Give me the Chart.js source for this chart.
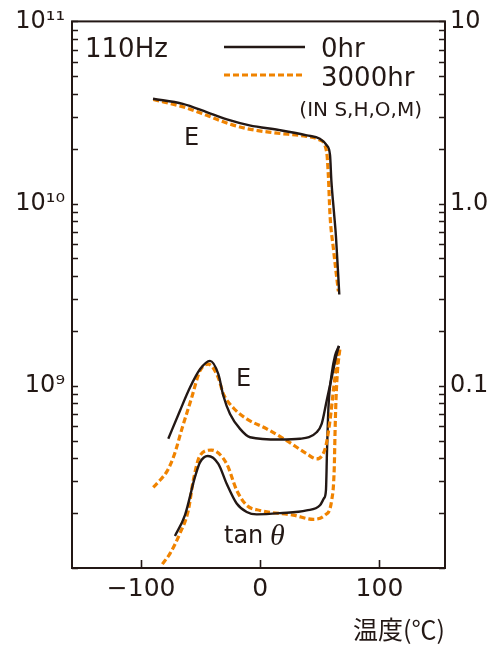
<!DOCTYPE html>
<html>
<head>
<meta charset="utf-8">
<script src="https://cdn.jsdelivr.net/npm/chart.js@4/dist/chart.umd.min.js"></script>
<style>
html,body{margin:0;padding:0;background:#fff;}
canvas{display:block;}
</style>
</head>
<body>
<canvas id="c" width="494" height="646"></canvas>
<script>
// ---- data (temperature in °C, E on left axis, tan on right axis) ----
const tE0    = [-90,-65,-45,-28,-9,16.5,39,50,55.7,58.5,59.7,61.8,63.5,66.3];
const E0     = [3.76e10,3.53e10,3.18e10,2.90e10,2.69e10,2.53e10,2.37e10,2.27e10,2.09e10,1.85e10,1.32e10,9.0e9,6.6e9,3.17e9];
const tE3000 = [-89.8,-64.6,-45,-31,-11.4,10.9,38.9,50.1,55.7,57.1,58.5,61.3,65.5];
const E3000  = [3.73e10,3.39e10,3.05e10,2.81e10,2.58e10,2.45e10,2.34e10,2.23e10,1.92e10,1.43e10,8.67e9,5.70e9,3.30e9];

const tM0    = [-77.2,-67.4,-59.0,-50.6,-42.2,-35.2,-31.0,-25.4,-17.0,-8.6,16.5,33.3,47.3,51.5,55.7,59.9,64.1,66.0];
const M0     = [5.12e8,7.30e8,9.79e8,1.233e9,1.371e9,1.158e9,8.82e8,7.00e8,5.80e8,5.22e8,5.07e8,5.12e8,5.56e8,6.18e8,8.28e8,1.11e9,1.49e9,1.655e9];
const tM3000 = [-89.8,-84.2,-78.3,-72.4,-65.7,-57.6,-50.6,-43.6,-35.2,-31.0,-22.7,-11.4,5.4,22.2,38.9,47.3,51.8,55.1,58.5,61.8,66.0];
const M3000  = [2.77e8,3.03e8,3.39e8,4.14e8,5.82e8,8.60e8,1.208e9,1.314e9,1.106e9,9.04e8,7.58e8,6.58e8,5.80e8,5.00e8,4.24e8,3.97e8,4.14e8,4.70e8,6.44e8,1.0e9,1.614e9];

const tT0    = [-71.6,-63.2,-54.8,-50.6,-44.0,-35.2,-28.2,-19.8,-11.4,-3.0,16.5,38.9,50.1,53.4,55.1,56.0,57.2,59.9,62.7,66.0];
const T0     = [0.0150,0.0195,0.0316,0.0380,0.0412,0.0373,0.0290,0.0226,0.0203,0.0197,0.0200,0.0207,0.0221,0.0241,0.0267,0.0441,0.0761,0.1158,0.146,0.1655];
const tT3000 = [-82.2,-75.8,-67.4,-60.4,-56.2,-50.6,-41.0,-28.2,-19.8,-11.4,-0.3,27.7,44.5,54.3,59.9,62.1,62.7,63.5,64.8,66.9];
const T3000  = [0.0105,0.0120,0.0155,0.0207,0.0303,0.0414,0.0444,0.0373,0.0267,0.0221,0.0207,0.0195,0.0185,0.0195,0.0235,0.0358,0.0545,0.0828,0.121,0.1614];

const xTickVals   = [-100, 0, 100];
const xTickLabels = ['\u2212100', '0', '100'];
const yMajor      = [1e9, 1e10, 1e11];
const yMajorLbl   = ['10\u2079', '10\u00b9\u2070', '10\u00b9\u00b9'];
const y2Major     = [0.1, 1, 10];
const y2MajorLbl  = ['0.1', '1.0', '10'];
const seriesNames = ['0hr', '3000hr'];

const INK = '#231815';
const ORANGE = '#f08300';

function pts(xs, ys){ return xs.map((x,i)=>({x:x, y:ys[i]})); }
function logTicks(lo, hi){
  const out=[];
  for(let e=lo;e<hi;e++){ for(let m=1;m<10;m++){ out.push({value:m*Math.pow(10,e)}); } }
  out.push({value:Math.pow(10,hi)});
  return out;
}
function matchLbl(v, vals, lbls){
  for(let i=0;i<vals.length;i++){ if(Math.abs(Math.log10(v)-Math.log10(vals[i]))<1e-6) return lbls[i]; }
  return '';
}

const solid = {borderColor:INK, borderWidth:2.4, pointRadius:0, cubicInterpolationMode:'monotone', fill:false};
const dashed = {borderColor:ORANGE, borderWidth:3.2, borderDash:[6,3], pointRadius:0, cubicInterpolationMode:'monotone', fill:false};

const frame = {
  id:'frame',
  afterDatasetsDraw(chart){
    const {ctx, chartArea:a, scales} = chart;
    ctx.save();
    ctx.strokeStyle = INK;
    ctx.lineWidth = 1.6;
    ctx.beginPath();
    scales.y.ticks.forEach(t=>{ const p=Math.round(scales.y.getPixelForValue(t.value))+0.5; ctx.moveTo(a.left,p); ctx.lineTo(a.left+6,p); });
    scales.y2.ticks.forEach(t=>{ const p=Math.round(scales.y2.getPixelForValue(t.value))+0.5; ctx.moveTo(a.right,p); ctx.lineTo(a.right-6,p); });
    scales.x.ticks.forEach(t=>{ const p=Math.round(scales.x.getPixelForValue(t.value))+0.5; ctx.moveTo(p,a.bottom); ctx.lineTo(p,a.bottom-8); });
    ctx.stroke();
    ctx.lineWidth = 2;
    ctx.strokeRect(a.left, a.top, a.right-a.left, a.bottom-a.top);

    // annotations
    ctx.fillStyle = INK;
    ctx.textBaseline = 'alphabetic';
    ctx.textAlign = 'left';
    ctx.font = '26px "DejaVu Sans"';
    ctx.fillText('110Hz', 85, 57);
    // legend
    const ds = chart.data.datasets;
    ctx.lineWidth = ds[0].borderWidth; ctx.strokeStyle = ds[0].borderColor; ctx.setLineDash([]);
    ctx.beginPath(); ctx.moveTo(224,47); ctx.lineTo(305,47); ctx.stroke();
    ctx.lineWidth = ds[1].borderWidth; ctx.strokeStyle = ds[1].borderColor; ctx.setLineDash(ds[1].borderDash);
    ctx.beginPath(); ctx.moveTo(224,75); ctx.lineTo(305,75); ctx.stroke();
    ctx.setLineDash([]);
    ctx.fillText(seriesNames[0], 321, 57);
    ctx.fillText(seriesNames[1], 321, 86);
    ctx.font = '20px "DejaVu Sans"';
    ctx.textAlign = 'right';
    ctx.fillText('(IN S,H,O,M)', 422, 116);
    ctx.textAlign = 'left';
    ctx.font = '24px "DejaVu Sans"';
    ctx.fillText('E', 184, 145);
    ctx.fillText('E', 236, 386);
    ctx.fillText('tan', 224, 543);
    ctx.font = 'italic 30px "Liberation Serif"';
    ctx.fillText('\u03b8', 270, 545);
    ctx.restore();
  }
};

new Chart(document.getElementById('c'), {
  type:'line',
  data:{
    datasets:[
      Object.assign({label:seriesNames[0], data:pts(tE0,E0), yAxisID:'y'}, solid),
      Object.assign({label:seriesNames[1], data:pts(tE3000,E3000), yAxisID:'y'}, dashed),
      Object.assign({label:seriesNames[0]+' E2', data:pts(tM0,M0), yAxisID:'y'}, solid),
      Object.assign({label:seriesNames[1]+' E2', data:pts(tM3000,M3000), yAxisID:'y'}, dashed),
      Object.assign({label:seriesNames[0]+' tan', data:pts(tT0,T0), yAxisID:'y2'}, solid),
      Object.assign({label:seriesNames[1]+' tan', data:pts(tT3000,T3000), yAxisID:'y2'}, dashed)
    ]
  },
  options:{
    responsive:false,
    animation:false,
    devicePixelRatio:1,
    layout:{padding:{top:19,left:0,right:0,bottom:0}},
    plugins:{legend:{display:false}, tooltip:{enabled:false}},
    scales:{
      x:{
        type:'linear', min:-158, max:155,
        grid:{display:false, drawTicks:false}, border:{display:false},
        afterBuildTicks(s){ s.ticks = xTickVals.map(v=>({value:v})); },
        afterFit(s){ s.height = 78; },
        ticks:{autoSkip:false, maxRotation:0, padding:6, color:INK, font:{family:'DejaVu Sans', size:25},
          callback(v){ const i = xTickVals.indexOf(v); return i>=0 ? xTickLabels[i] : ''; }},
        title:{display:true, text:'温度(℃)', align:'end', color:INK, padding:{top:0,bottom:2},
          font:{family:'Noto Sans CJK JP', size:25}}
      },
      y:{
        type:'logarithmic', position:'left', min:1e8, max:1e11,
        grid:{display:false, drawTicks:false}, border:{display:false},
        afterBuildTicks(s){ s.ticks = logTicks(8,11); },
        afterFit(s){ s.width = 72; },
        ticks:{autoSkip:false, padding:7, color:INK, font:{family:'DejaVu Sans', size:24},
          callback(v){ return matchLbl(v, yMajor, yMajorLbl); }}
      },
      y2:{
        type:'logarithmic', position:'right', min:0.01, max:10,
        grid:{display:false, drawTicks:false}, border:{display:false},
        afterBuildTicks(s){ s.ticks = logTicks(-2,1); },
        afterFit(s){ s.width = 49; },
        ticks:{autoSkip:false, padding:5, color:INK, font:{family:'DejaVu Sans', size:24},
          callback(v){ return matchLbl(v, y2Major, y2MajorLbl); }}
      }
    }
  },
  plugins:[frame]
});
</script>
</body>
</html>
